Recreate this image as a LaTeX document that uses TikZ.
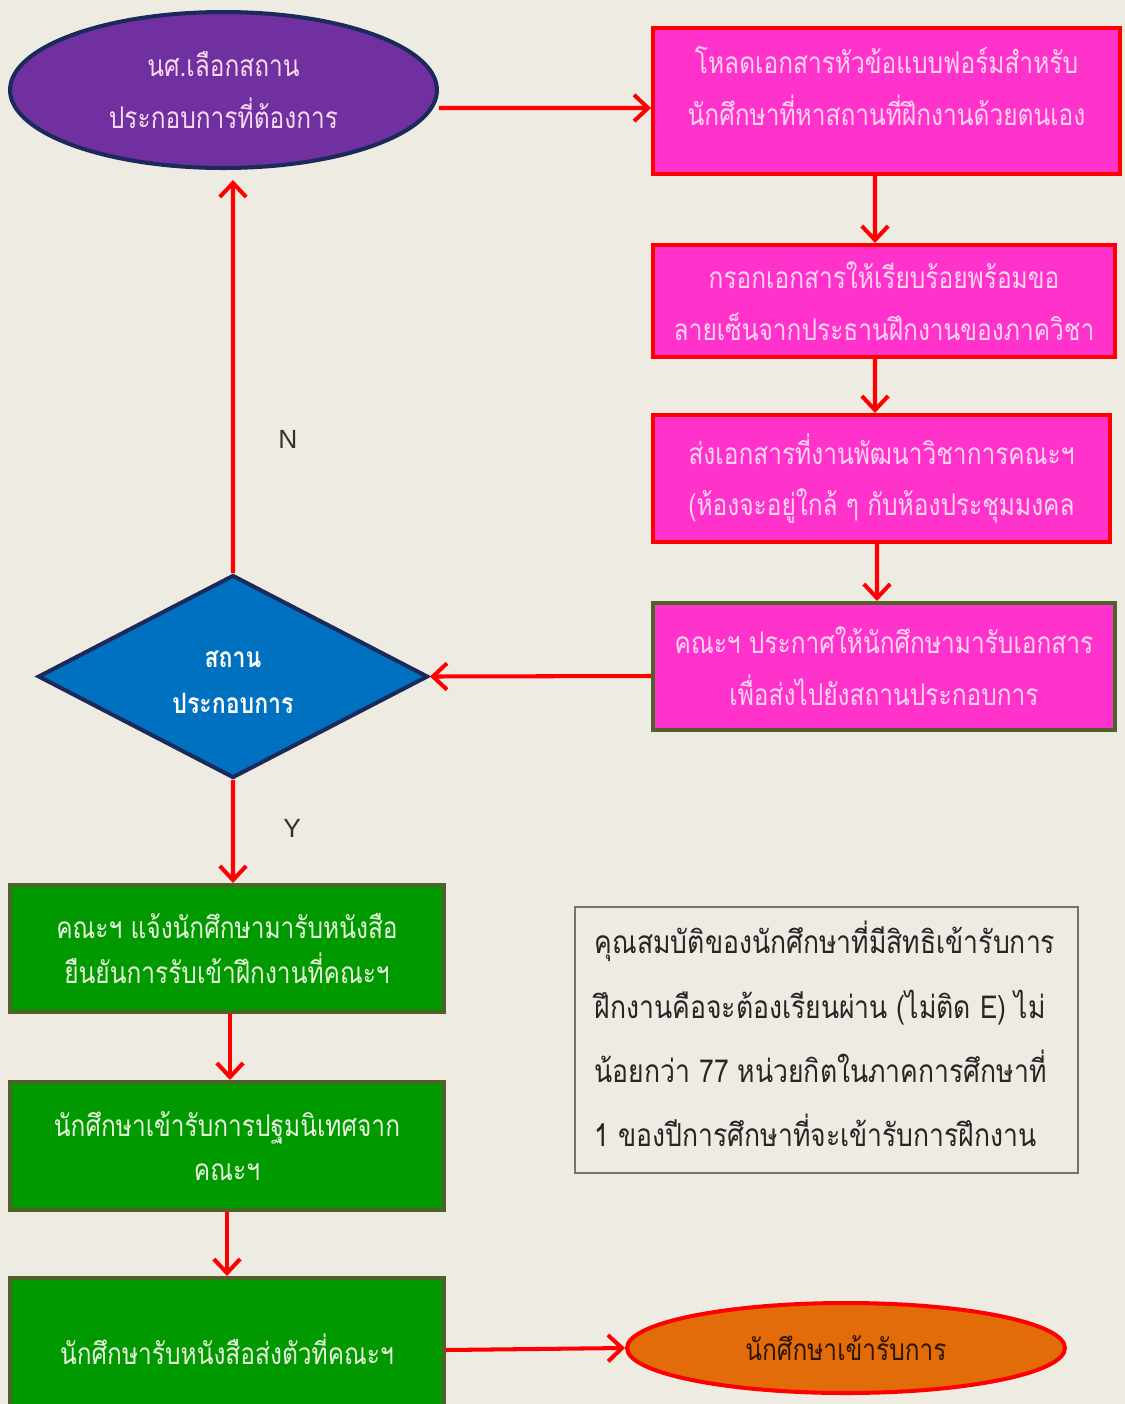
\documentclass[tikz,border=0pt]{standalone}
\usepackage{fontspec}
\setmainfont[Script=Thai,FakeStretch=0.82]{Loma}
\newfontfamily\notefont[Script=Thai,FakeStretch=0.84]{Loma}
\newfontfamily\latinlbl{Liberation Sans}
\usetikzlibrary{shapes.geometric,arrows.meta}
\definecolor{bg}{HTML}{EEEBE3}
\definecolor{purp}{HTML}{7030A0}
\definecolor{navy}{HTML}{1B2A5A}
\definecolor{pinkf}{HTML}{FF33CC}
\definecolor{pinkt}{HTML}{FAD5F2}
\definecolor{olive}{HTML}{4F6228}
\definecolor{blu}{HTML}{0070C0}
\definecolor{grn}{HTML}{009900}
\definecolor{grnt}{HTML}{E6F5DC}
\definecolor{orng}{HTML}{E36C0A}
\tikzset{
  base/.style={inner sep=0pt, align=center, font=\fontsize{17}{29.5}\selectfont},
  pinkbox/.style={base, rectangle, draw=red, fill=pinkf, line width=2.3pt, text=pinkt},
  greenbox/.style={base, rectangle, draw=olive, fill=grn, line width=2.3pt, text=grnt, font=\fontsize{17}{25.5}\selectfont},
  arr/.style={draw=red, line width=2.3pt, -{Straight Barb[length=8pt,width=15pt]}},
  lbl/.style={font=\latinlbl\fontsize{15}{18}\selectfont, text=black!80}
}
\begin{document}
\begin{tikzpicture}[x=0.02cm,y=-0.02cm]
\fill[bg] (0,0) rectangle (1125,1404);
\useasboundingbox (0,0) rectangle (1125,1404);
% top-left ellipse
\node[base, ellipse, draw=navy, fill=purp, line width=2.3pt, text=pinkt!90!white,
      minimum width=8.54cm, minimum height=3.12cm] (e1) at (223.5,90)
      {นศ.เลือกสถาน\\ประกอบการที่ต้องการ};
% pink boxes
\node[pinkbox, minimum width=9.34cm, minimum height=2.92cm] (b1) at (886.5,101) {};
\node[base, text=pinkt] (b1t) at (886.5,86) {โหลดเอกสารหัวข้อแบบฟอร์มสำหรับ\\นักศึกษาที่หาสถานที่ฝึกงานด้วยตนเอง};
\node[pinkbox, minimum width=9.24cm, minimum height=2.24cm] (b2) at (884,301)
      {กรอกเอกสารให้เรียบร้อยพร้อมขอ\\ลายเซ็นจากประธานฝึกงานของภาควิชา};
\node[pinkbox, minimum width=9.14cm, minimum height=2.54cm] (b3) at (881.5,478.5)
      {ส่งเอกสารที่งานพัฒนาวิชาการคณะฯ\\(ห้องจะอยู่ใกล้ ๆ กับห้องประชุมมงคล};
\node[pinkbox, draw=olive, minimum width=9.24cm, minimum height=2.54cm] (b4) at (884,666.5)
      {คณะฯ ประกาศให้นักศึกษามารับเอกสาร\\เพื่อส่งไปยังสถานประกอบการ};
% diamond
\node[diamond, draw=navy, fill=blu, line width=2.3pt, inner sep=0pt,
      minimum width=7.8cm, minimum height=4.06cm] (d) at (233,676.5) {};
\node[base, text=white, font=\fontsize{16}{26}\selectfont\bfseries] (dt) at (233,682) {สถาน\\ประกอบการ};
% green boxes
\node[greenbox, minimum width=8.68cm, minimum height=2.54cm] (g1) at (227,948.5)
      {คณะฯ แจ้งนักศึกษามารับหนังสือ\\ยืนยันการรับเข้าฝึกงานที่คณะฯ};
\node[greenbox, minimum width=8.68cm, minimum height=2.56cm] (g2) at (227,1146)
      {นักศึกษาเข้ารับการปฐมนิเทศจาก\\คณะฯ};
\node[greenbox, minimum width=8.68cm, minimum height=2.84cm] (g3) at (227,1349)
      {นักศึกษารับหนังสือส่งตัวที่คณะฯ};
% orange ellipse
\node[base, ellipse, draw=red, fill=orng, line width=2.3pt, text=black!80!orng,
      minimum width=8.76cm, minimum height=1.8cm] (e2) at (846,1348) {นักศึกษาเข้ารับการ};
% note box
\node[draw=black!55, line width=0.8pt, inner sep=0pt,
      minimum width=10.06cm, minimum height=5.32cm] (nt) at (826.5,1040) {};
\node[align=left, inner sep=0pt, font=\notefont\fontsize{18}{36.5}\selectfont, text=black!85]
      (ntt) at (825,1034)
      {คุณสมบัติของนักศึกษาที่มีสิทธิเข้ารับการ\\ฝึกงานคือจะต้องเรียนผ่าน (ไม่ติด E) ไม่\\น้อยกว่า 77 หน่วยกิตในภาคการศึกษาที่\\1 ของปีการศึกษาที่จะเข้ารับการฝึกงาน};
% connectors
\draw[arr] ([yshift=-0.36cm]e1.east) -- ([yshift=-0.14cm]b1.west);
\draw[arr] ([xshift=-0.23cm]b1.south) -- ([xshift=-0.18cm]b2.north);
\draw[arr] ([xshift=-0.18cm]b2.south) -- ([xshift=-0.13cm]b3.north);
\draw[arr] ([xshift=-0.09cm]b3.south) -- ([xshift=-0.14cm]b4.north);
\draw[arr] ([yshift=-0.19cm]b4.west) -- (d.east);
\draw[arr] (d.north) -- node[pos=0.34, right=0.75cm, lbl] (lN) {N} ([xshift=0.19cm,yshift=-0.2cm]e1.south);
\draw[arr] (d.south) -- node[pos=0.47, right=0.85cm, lbl] (lY) {Y} ([xshift=0.12cm]g1.north);
\draw[arr] ([xshift=0.06cm]g1.south) -- ([xshift=0.06cm]g2.north);
\draw[arr] (g2.south) -- (g3.north);
\draw[arr] ([yshift=-0.02cm]g3.east) -- (e2.west);
\end{tikzpicture}
\end{document}
